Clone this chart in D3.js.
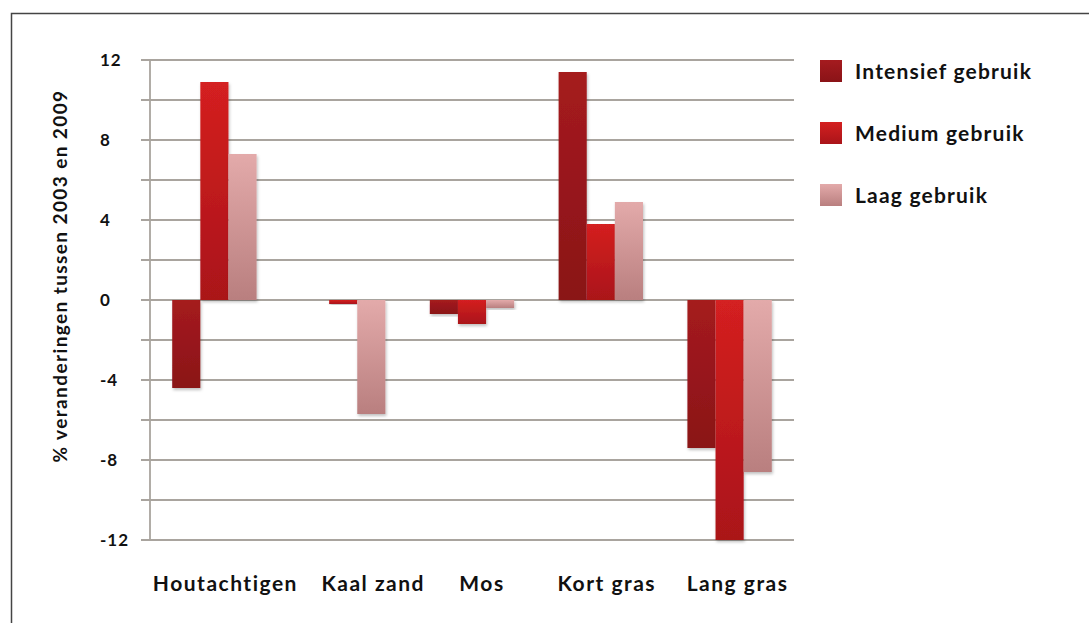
<!DOCTYPE html>
<html lang="nl">
<head>
<meta charset="utf-8">
<script src="https://cdn.jsdelivr.net/npm/d3@7"></script>
<style>
  body { margin: 0; background: #fff; }
  svg { display: block; font-family: Lato, "Open Sans", sans-serif; font-weight: 700; }
</style>
</head>
<body>
<script>
// data
const categories = ["Houtachtigen", "Kaal zand", "Mos", "Kort gras", "Lang gras"]
const seriesNames = ["Intensief gebruik", "Medium gebruik", "Laag gebruik"]
const intensief = [-4.4, 0, -0.7, 11.4, -7.4]
const medium = [10.9, -0.2, -1.2, 3.8, -12]
const laag = [7.3, -5.7, -0.4, 4.9, -8.6]
const tickValues = [-12, -8, -4, 0, 4, 8, 12]
const gridValues = d3.range(-12, 13, 2)

// labels in the original are not exactly under their groups
const labelNudge = [11, 30, 10, 6, 8]

const w = 1089, h = 623
const margin = {left: 150, right: 295, top: 60, bottom: 83}

// colours per series: [top, bottom]
const colours = [["#a51b1f", "#8a1317"], ["#d42020", "#aa1419"], ["#e3aaaa", "#b97f7f"]]

const svg = d3.select("body").append("svg").attr("width", w).attr("height", h)

const defs = svg.append("defs")
colours.forEach((c, i) => {
  const g = defs.append("linearGradient").attr("id", "grad" + i)
    .attr("x1", 0).attr("y1", 0).attr("x2", 0).attr("y2", 1)
  g.append("stop").attr("offset", "0%").attr("stop-color", c[0])
  g.append("stop").attr("offset", "100%").attr("stop-color", c[1])
})
const shadow = defs.append("filter").attr("id", "shadow")
  .attr("x", "-20%").attr("y", "-20%").attr("width", "140%").attr("height", "140%")
shadow.append("feDropShadow").attr("dx", 1).attr("dy", 2)
  .attr("stdDeviation", 1.5).attr("flood-color", "#000").attr("flood-opacity", 0.25)

// frame (left and top only)
svg.append("path").attr("d", `M11.5,${h} V13.5 H${w}`)
  .attr("fill", "none").attr("stroke", "#444").attr("stroke-width", 1.5)

const x0 = d3.scaleBand().domain(categories)
  .range([margin.left, w - margin.right])
  .paddingInner(0.345).paddingOuter(0.1725)
const x1 = d3.scaleBand().domain(d3.range(3)).range([0, x0.bandwidth()])
const y = d3.scaleLinear().domain([-12, 12]).range([h - margin.bottom, margin.top])

// gridlines
svg.append("g").selectAll("line").data(gridValues).join("line")
  .attr("x1", margin.left - 9).attr("x2", w - margin.right)
  .attr("y1", d => y(d)).attr("y2", d => y(d))
  .attr("stroke", "#a9a49e").attr("stroke-width", 1.8)

// y axis line
svg.append("line").attr("x1", margin.left).attr("x2", margin.left)
  .attr("y1", y(12)).attr("y2", y(-12))
  .attr("stroke", "#a9a49e").attr("stroke-width", 1.8)

// y tick labels (left aligned, as in the original)
svg.append("g").selectAll("text").data(tickValues).join("text")
  .attr("x", 100).attr("y", d => y(d) + 6)
  .attr("font-size", 17)
  .attr("letter-spacing", 1).attr("fill", "#111")
  .text(d => String(d))

// y title
svg.append("text")
  .attr("transform", `translate(67,${(y(12) + y(-12)) / 2 - 24}) rotate(-90)`)
  .attr("text-anchor", "middle").attr("font-size", 19)
  .attr("letter-spacing", 1.4).attr("fill", "#111")
  .text("% veranderingen tussen 2003 en 2009")

// bars
const series = [intensief, medium, laag]
const groups = svg.append("g").selectAll("g").data(categories).join("g")
  .attr("transform", d => `translate(${x0(d)},0)`)
groups.selectAll("rect")
  .data((d, ci) => series.map((s, si) => ({si, v: s[ci]})))
  .join("rect")
  .filter(d => d.v !== 0)
  .attr("x", d => x1(d.si))
  .attr("width", x1.bandwidth())
  .attr("y", d => y(Math.max(0, d.v)))
  .attr("height", d => Math.abs(y(d.v) - y(0)))
  .attr("fill", d => `url(#grad${d.si})`)
  .attr("filter", "url(#shadow)")

// x labels
svg.append("g").selectAll("text").data(categories).join("text")
  .attr("x", (d, i) => x0(d) + x0.bandwidth() / 2 + labelNudge[i])
  .attr("y", 591)
  .attr("text-anchor", "middle").attr("font-size", 21)
  .attr("letter-spacing", 1.5).attr("fill", "#111")
  .text(d => d)

// legend
const legend = svg.append("g").attr("transform", "translate(820,60)")
  .selectAll("g").data(seriesNames).join("g")
  .attr("transform", (d, i) => `translate(0,${i * 62})`)
legend.append("rect").attr("width", 22).attr("height", 22)
  .attr("fill", (d, i) => `url(#grad${i})`)
legend.append("text").attr("x", 35).attr("y", 19)
  .attr("font-size", 21).attr("letter-spacing", 1.2)
  .attr("fill", "#111").text(d => d)
</script>
</body>
</html>
